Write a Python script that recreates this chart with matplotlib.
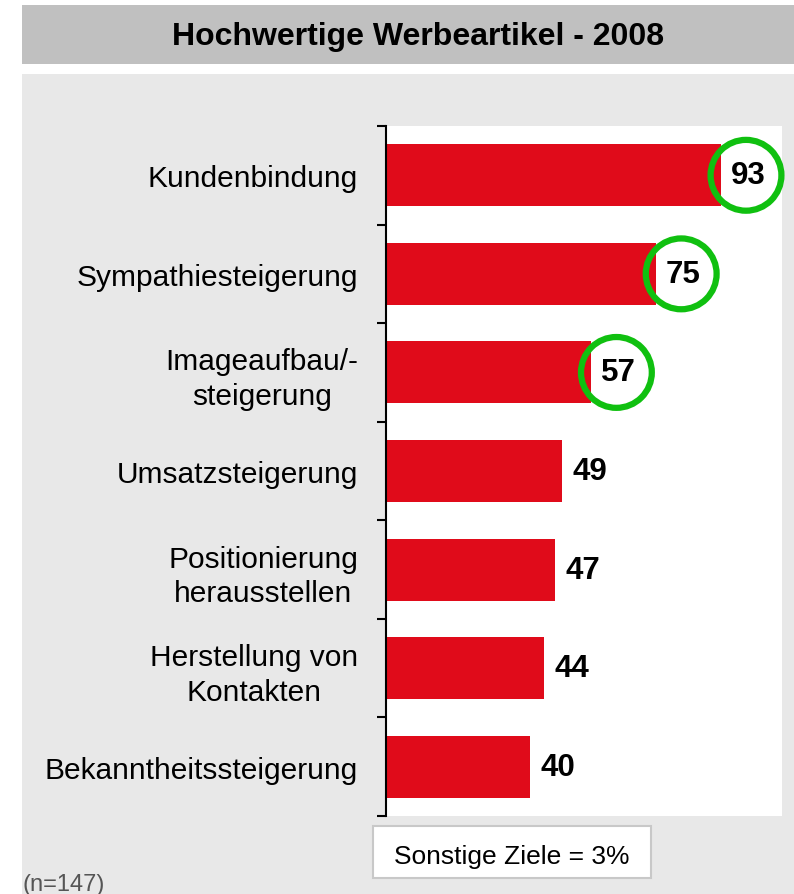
import matplotlib.pyplot as plt
from matplotlib.patches import Rectangle

plt.rcParams['font.family'] = ['Liberation Sans', 'DejaVu Sans']

TITLE = 'Hochwertige Werbeartikel - 2008'
categories = ['Kundenbindung', 'Sympathiesteigerung', 'Imageaufbau/-\nsteigerung',
              'Umsatzsteigerung', 'Positionierung\nherausstellen',
              'Herstellung von\nKontakten', 'Bekanntheitssteigerung']
values = [93, 75, 57, 49, 47, 44, 40]
highlighted = [True, True, True, False, False, False, False]
note = 'Sonstige Ziele = 3%'
sample = '(n=147)'

BAR_RED = '#e00b1a'
RING_GREEN = '#10c010'


def main():
    W, H = 794, 895
    fig = plt.figure(figsize=(W / 100, H / 100), dpi=100, facecolor='white')

    # grey title band and light panel behind the chart
    fig.patches.append(Rectangle((22 / W, 1 - 65 / H), 1 - 22 / W, 59 / H,
                                 transform=fig.transFigure, facecolor='#c0c0c0',
                                 edgecolor='none', zorder=-2))
    fig.patches.append(Rectangle((22 / W, 0), 1 - 22 / W, 1 - 75 / H,
                                 transform=fig.transFigure, facecolor='#e8e8e8',
                                 edgecolor='none', zorder=-2))
    fig.text(418 / W, 1 - 37 / H, TITLE, ha='center', va='center',
             fontsize=23, fontweight='bold')

    ax = fig.add_axes([386 / W, 78 / H, 396 / W, 690 / H])
    ax.set_zorder(2)
    ax.set_facecolor('white')
    pos = list(range(len(categories)))
    ax.barh(pos, values, height=0.63, color=BAR_RED, zorder=2)
    ax.set_xlim(0, 110)
    ax.set_ylim(len(categories) - 0.5, -0.5)

    for y, v, hl in zip(pos, values, highlighted):
        ax.text(v + 2.8, y, str(v), ha='left', va='center', fontsize=22.5,
                fontweight='bold', zorder=4)
        if hl:
            ax.scatter([v + 7.0], [y], s=2600, facecolors='none',
                       edgecolors=RING_GREEN, linewidths=4.5, zorder=5,
                       clip_on=False)

    for s in ['top', 'right', 'bottom']:
        ax.spines[s].set_visible(False)
    ax.spines['left'].set_linewidth(1.5)
    ax.set_xticks([])
    ax.set_yticks(pos)
    ax.set_yticklabels(categories, fontsize=21.5, multialignment='center',
                       linespacing=1.3)
    ax.tick_params(axis='y', which='major', length=0, pad=20)
    ax.set_yticks([p - 0.5 for p in pos] + [len(categories) - 0.5], minor=True)
    ax.tick_params(axis='y', which='minor', length=6.5, width=1.5, direction='out')

    # note box below the chart
    fig.patches.append(Rectangle((373 / W, 1 - 879 / H), 278 / W, 52 / H,
                                 transform=fig.transFigure, facecolor='white',
                                 edgecolor='#c8c8c8', linewidth=1.5, zorder=3))
    fig.text(512 / W, 1 - 857 / H, note, ha='center', va='center', fontsize=19,
             zorder=4)
    fig.text(22 / W, 1 - 885 / H, sample, ha='left', va='center', fontsize=17,
             color='#555555')

    fig.savefig('out.png', dpi=100, facecolor='white')
    plt.close('all')


if __name__ == '__main__':
    main()
